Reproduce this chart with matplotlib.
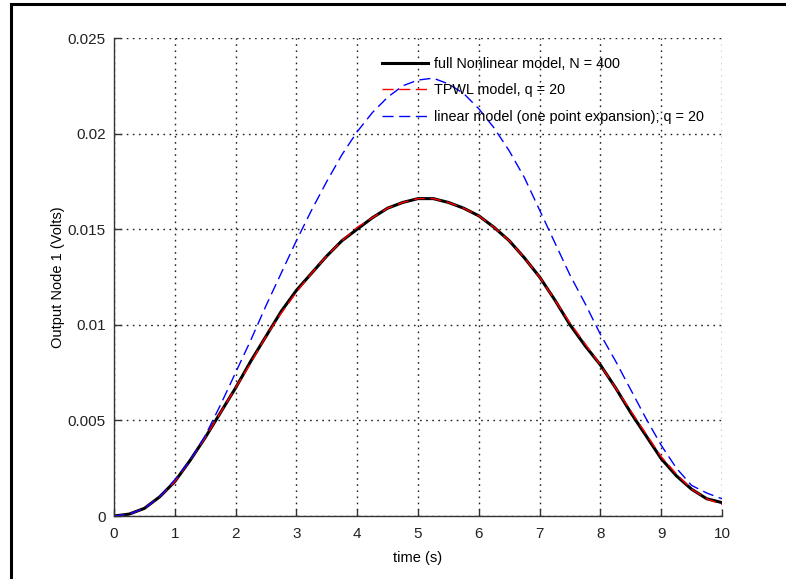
"""Recreate the output-node response comparison plot."""

import matplotlib

matplotlib.use('Agg')

import matplotlib.pyplot as plt
from matplotlib.patches import Rectangle
from matplotlib.ticker import FuncFormatter

plt.rcParams['font.family'] = ['Liberation Sans', 'DejaVu Sans']

time_s = [0.00, 0.25, 0.50, 0.75, 1.00, 1.25, 1.50, 1.75, 2.00, 2.25,
          2.50, 2.75, 3.00, 3.25, 3.50, 3.75, 4.00, 4.25, 4.50, 4.75,
          5.00, 5.25, 5.50, 5.75, 6.00, 6.25, 6.50, 6.75, 7.00, 7.25,
          7.50, 7.75, 8.00, 8.25, 8.50, 8.75, 9.00, 9.25, 9.50, 9.75,
          10.00]

full_nonlinear = [0.0000, 0.0001, 0.0004, 0.0010, 0.0018, 0.0029, 0.0041, 0.0054, 0.0067, 0.0081,
                  0.0094, 0.0107, 0.0118, 0.0127, 0.0136, 0.0144, 0.0150, 0.0156, 0.0161, 0.0164,
                  0.0166, 0.0166, 0.0164, 0.0161, 0.0157, 0.0151, 0.0144, 0.0135, 0.0125, 0.0113,
                  0.0100, 0.0089, 0.0079, 0.0067, 0.0054, 0.0042, 0.0030, 0.0021, 0.0014, 0.0009,
                  0.0007]

tpwl = [0.0000, 0.0001, 0.0004, 0.0010, 0.0018, 0.0029, 0.0041, 0.0054, 0.0067, 0.0080,
        0.0094, 0.0106, 0.0117, 0.0127, 0.0136, 0.0144, 0.0151, 0.0156, 0.0161, 0.0164,
        0.0166, 0.0166, 0.0164, 0.0161, 0.0157, 0.0151, 0.0144, 0.0135, 0.0125, 0.0113,
        0.0101, 0.0090, 0.0079, 0.0067, 0.0055, 0.0043, 0.0031, 0.0022, 0.0014, 0.0009,
        0.0006]

linear_one_point = [0.0000, 0.0001, 0.0004, 0.0010, 0.0019, 0.0029, 0.0042, 0.0058, 0.0075, 0.0092,
                    0.0110, 0.0127, 0.0144, 0.0160, 0.0175, 0.0189, 0.0201, 0.0211, 0.0219, 0.0225,
                    0.0228, 0.0229, 0.0226, 0.0221, 0.0213, 0.0203, 0.0191, 0.0177, 0.0160, 0.0143,
                    0.0126, 0.0111, 0.0095, 0.0081, 0.0066, 0.0051, 0.0037, 0.0025, 0.0016, 0.0012,
                    0.0009]

x_ticks = [0, 1, 2, 3, 4, 5, 6, 7, 8, 9, 10]
y_ticks = [0, 0.005, 0.01, 0.015, 0.02, 0.025]


def main():
    fig = plt.figure(figsize=(7.86, 5.79), dpi=100)
    ax = fig.add_axes([114 / 786, 63 / 579, 608 / 786, 478 / 579])

    # figure frame (only left and top edges fall inside the picture)
    fig.patches.append(Rectangle((11 / 786, -0.05), 1.2, 1.0 - 3.5 / 579 + 0.05,
                                 transform=fig.transFigure, fill=False,
                                 edgecolor='black', linewidth=2.2))

    ax.plot(time_s, full_nonlinear, color='black', linewidth=2.2,
            label='full Nonlinear model, N = 400')
    ax.plot(time_s, tpwl, color='red', linestyle='--', linewidth=1.0,
            dashes=(8, 4), label='TPWL model, q = 20')
    ax.plot(time_s, linear_one_point, color='blue', linestyle='--', linewidth=1.0,
            dashes=(8, 4), label='linear model (one point expansion); q = 20')

    ax.set_xlim(0, 10)
    ax.set_ylim(0, 0.025)
    ax.set_xticks(x_ticks)
    ax.set_yticks(y_ticks)
    ax.yaxis.set_major_formatter(FuncFormatter(lambda v, _: f'{v:g}'))
    ax.grid(True, linestyle=(0, (1.2, 3.2)), color='#222222', linewidth=1.0)

    for side in ('top', 'right'):
        ax.spines[side].set_visible(False)
    for side in ('left', 'bottom'):
        ax.spines[side].set_color('#333333')
        ax.spines[side].set_linewidth(1.0)
    ax.tick_params(direction='in', length=5, width=1.0, colors='#333333',
                   labelsize=11, labelcolor='#222222')
    ax.tick_params(axis='x', pad=8)
    ax.tick_params(axis='y', pad=6)

    ax.set_xlabel('time (s)', fontsize=10.5, labelpad=7)
    ax.set_ylabel('Output Node 1 (Volts)', fontsize=10.5, labelpad=2)

    ax.legend(loc='upper left', bbox_to_anchor=(0.419, 0.988), frameon=False,
              fontsize=10.4, handlelength=3.2, handletextpad=0.45, labelspacing=0.88)

    fig.savefig('out.png', dpi=100)


if __name__ == '__main__':
    main()
